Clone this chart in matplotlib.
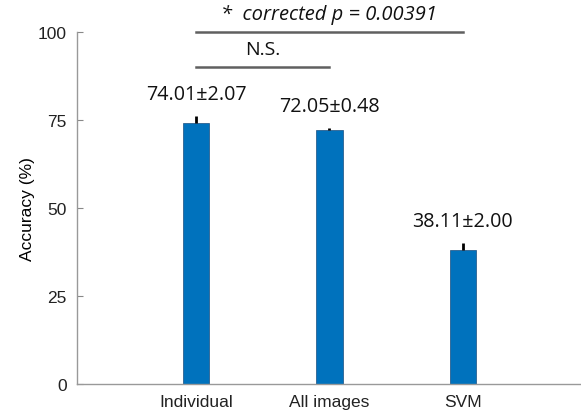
import numpy as np
import matplotlib
matplotlib.use('Agg')
import matplotlib.pyplot as plt

categories = ['Individual', 'All images', 'SVM']
means = [74.01, 72.05, 38.11]
errors = [2.07, 0.48, 2.00]
yticks = [0, 25, 50, 75, 100]

fig = plt.figure(figsize=(5.81, 4.14), dpi=100)
ax = fig.add_axes([0.132, 0.070, 0.866, 0.851])

x = np.arange(1, len(categories) + 1)
ax.bar(x, means, width=0.2, color='#0072BD', edgecolor='#1a4f80', linewidth=0.5, zorder=2)
ax.errorbar(x, means, yerr=[np.zeros(len(errors)), errors], fmt='none',
            ecolor='black', elinewidth=2, capsize=0, zorder=3)

for xi, m, e in zip(x, means, errors):
    ax.text(xi, m + e + 6.3, f'{m:.2f}\u00b1{e:.2f}', ha='center', va='center',
            fontsize=14.2, family='Open Sans', color='#111111')

# significance brackets
ax.plot([1, 3], [100, 100], color='#606060', lw=1.8, clip_on=False)
ax.text(2, 105, '*  corrected p = 0.00391', ha='center', va='center',
        fontsize=14.5, style='italic', family='Open Sans', color='#111111')
ax.plot([1, 2], [90, 90], color='#606060', lw=1.8, clip_on=False)
ax.text(1.5, 95, 'N.S.', ha='center', va='center', fontsize=14,
        family='Open Sans', color='#111111')

ax.set_xlim(0.106, 3.876)
ax.set_ylim(0, 100)
ax.set_xticks(x)
ax.set_xticklabels(categories)
ax.set_yticks(yticks)
ax.set_ylabel('Accuracy (%)', fontsize=12.5, family='Liberation Sans', labelpad=2)
for lbl in ax.get_xticklabels() + ax.get_yticklabels():
    lbl.set_family('Liberation Sans')
    lbl.set_fontsize(12.5)
    lbl.set_color('#222222')
ax.tick_params(direction='in', length=4, color='#888888', width=0.8, pad=7)
ax.spines['top'].set_visible(False)
ax.spines['right'].set_visible(False)
for s in ['left', 'bottom']:
    ax.spines[s].set_color('#999999')
    ax.spines[s].set_linewidth(1.0)

fig.savefig('out.png', dpi=100)
